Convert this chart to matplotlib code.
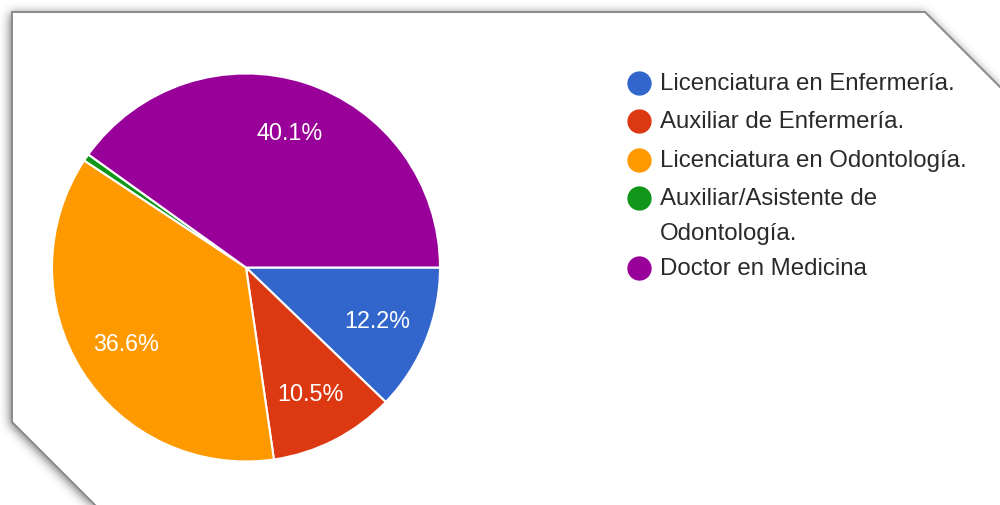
import numpy as np
import matplotlib
matplotlib.use("Agg")
import matplotlib.pyplot as plt
from matplotlib.path import Path
from matplotlib.patches import Polygon

# Response shares by degree (percent of respondents)
categories = [
    "Licenciatura en Enfermería.",
    "Auxiliar de Enfermería.",
    "Licenciatura en Odontología.",
    "Auxiliar/Asistente de\nOdontología.",
    "Doctor en Medicina",
]
shares = [12.2, 10.5, 36.6, 0.6, 40.1]
colors = ["#3366cc", "#dc3912", "#ff9900", "#109618", "#990099"]

W, H = 1000, 506
FONT = ["Liberation Sans", "DejaVu Sans"]

fig = plt.figure(figsize=(W / 100, H / 100), dpi=100)
fig.patch.set_facecolor("white")
ax = fig.add_axes([0, 0, 1, 1])


def up(y):
    """Convert a top-down pixel row to the axes' bottom-up coordinate."""
    return H - y


# Card outline with clipped top-right and bottom-left corners (pixel space)
card_px = [(12, 13), (925, 13), (1010, 98), (1010, 516), (105, 516), (12, 423)]


def gaussian_blur(img, sigma):
    r = int(3 * sigma)
    k = np.exp(-0.5 * (np.arange(-r, r + 1) / sigma) ** 2)
    k /= k.sum()
    out = np.apply_along_axis(lambda m: np.convolve(m, k, mode="same"), 1, img)
    out = np.apply_along_axis(lambda m: np.convolve(m, k, mode="same"), 0, out)
    return out


# Soft drop shadow around the card
yy, xx = np.mgrid[0:H, 0:W]
pts = np.column_stack([xx.ravel() + 0.5, yy.ravel() + 0.5])
shadow_path = Path([(x - 2, y + 1) for x, y in card_px])
mask = shadow_path.contains_points(pts).reshape(H, W).astype(float)
mask = gaussian_blur(mask, 5.0)
shadow = np.zeros((H, W, 4))
shadow[..., :3] = 0.3
shadow[..., 3] = 0.8 * mask
ax.imshow(shadow, extent=(0, W, 0, H), origin="upper", zorder=0.2,
          interpolation="bilinear")

card = Polygon([(x, up(y)) for x, y in card_px], closed=True,
               facecolor="white", edgecolor="#8a8a8a", linewidth=1.4,
               zorder=0.5)
ax.add_patch(card)

# Pie chart, starting at 3 o'clock and running clockwise
center = (246, up(268.5))
radius = 194
ax.pie(
    shares,
    colors=colors,
    startangle=0,
    counterclock=False,
    center=center,
    radius=radius,
    autopct=lambda p: f"{p:.1f}%" if p >= 5 else "",
    pctdistance=0.73,
    wedgeprops=dict(edgecolor="white", linewidth=1.5, zorder=2),
    textprops=dict(color="white", fontsize=16.8, family=FONT, zorder=3),
)

# Legend: coloured dots with wrapped labels
leg_x_dot, leg_x_txt = 639, 660
row_y = 84
row_step = 38.3
line_step = 35
for label, color in zip(categories, colors):
    lines = label.split("\n")
    ax.plot(leg_x_dot, up(row_y), marker="o", markersize=17.5, color=color,
            markeredgewidth=0, zorder=3)
    for j, line in enumerate(lines):
        ax.text(leg_x_txt, up(row_y + j * line_step), line, fontsize=17.3,
                family=FONT, color="#2a2a2a", va="center", ha="left",
                zorder=3)
    row_y += row_step + (len(lines) - 1) * 32

ax.set_xlim(0, W)
ax.set_ylim(0, H)
ax.set_aspect("auto")
ax.axis("off")

fig.savefig("out.png", dpi=100, facecolor="white")
